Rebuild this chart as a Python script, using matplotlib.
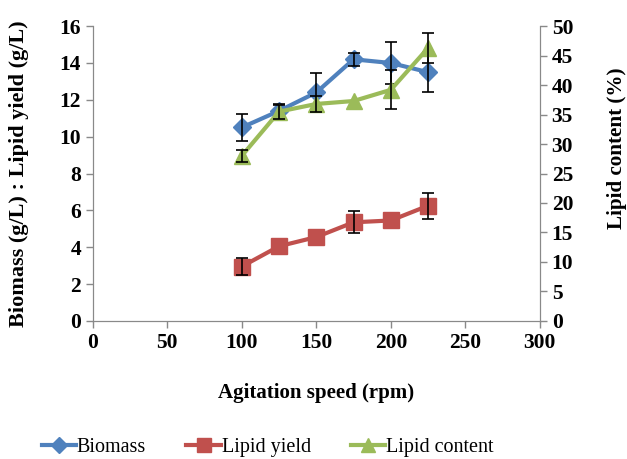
import matplotlib.pyplot as plt
from matplotlib.lines import Line2D
import numpy as np

speed = [100, 125, 150, 175, 200, 225]
biomass = [10.5, 11.4, 12.4, 14.2, 14.0, 13.5]
biomass_err = [0.75, 0.4, 1.05, 0.35, 1.15, 1.1]
lipid_yield = [2.95, 4.05, 4.55, 5.35, 5.45, 6.25]
lipid_yield_err = [0.45, 0.0, 0.0, 0.6, 0.0, 0.7]
lipid_content = [28.0, 35.5, 36.8, 37.3, 39.2, 46.3]
lipid_content_err = [1.0, 1.2, 1.3, 0.0, 3.3, 2.5]

plt.rcParams['font.family'] = ['Liberation Serif', 'DejaVu Serif']

fig = plt.figure(figsize=(6.27, 4.59), dpi=100)
ax = fig.add_axes([0.148, 0.301, 0.713, 0.642])
ax2 = ax.twinx()

blue, red, green = "#4F81BD", "#C0504D", "#9BBB59"


def draw(a, x, y, err, color, marker, ms):
    x, y, err = np.array(x), np.array(y), np.array(err)
    keep = err > 0
    a.plot(x, y, color=color, lw=3, marker=marker, ms=ms, zorder=2)
    a.errorbar(x[keep], y[keep], yerr=err[keep], fmt="none", ecolor="black",
               elinewidth=1.2, capsize=4, capthick=1.2, zorder=3)


draw(ax, speed, biomass, biomass_err, blue, "D", 9)
draw(ax, speed, lipid_yield, lipid_yield_err, red, "s", 11)
draw(ax2, speed, lipid_content, lipid_content_err, green, "^", 11)

ax.set_xlim(0, 300)
ax.set_ylim(0, 16)
ax2.set_ylim(0, 50)
ax.set_xticks(np.arange(0, 301, 50))
ax.set_yticks(np.arange(0, 17, 2))
ax2.set_yticks(np.arange(0, 51, 5))

for a in (ax, ax2):
    for s in a.spines.values():
        s.set_color("#898989")
    a.spines["top"].set_visible(False)
    a.tick_params(colors="#898989", labelcolor="black", labelsize=15.5,
                  length=5, width=1)
    for lab in a.get_xticklabels() + a.get_yticklabels():
        lab.set_fontweight("bold")

ax.set_xlabel("Agitation speed (rpm)", fontsize=15, fontweight="bold", labelpad=22)
ax.set_ylabel("Biomass (g/L) : Lipid yield (g/L)", fontsize=16, fontweight="bold")
ax.yaxis.set_label_coords(-0.143, 0.5)
ax2.set_ylabel("Lipid content (%)", fontsize=15.2, fontweight="bold")
ax2.yaxis.set_label_coords(1.15, 0.586)

handles = [Line2D([], [], color=blue, lw=3, marker="D", ms=8),
           Line2D([], [], color=red, lw=3, marker="s", ms=10),
           Line2D([], [], color=green, lw=3, marker="^", ms=10)]
fig.legend(handles, ["Biomass", "Lipid yield", "Lipid content"],
           loc="lower center", bbox_to_anchor=(0.427, -0.035), ncol=3,
           frameon=False, fontsize=14.5, handlelength=1.7,
           handletextpad=0.05, columnspacing=2.0)

fig.savefig("out.png", dpi=100)
